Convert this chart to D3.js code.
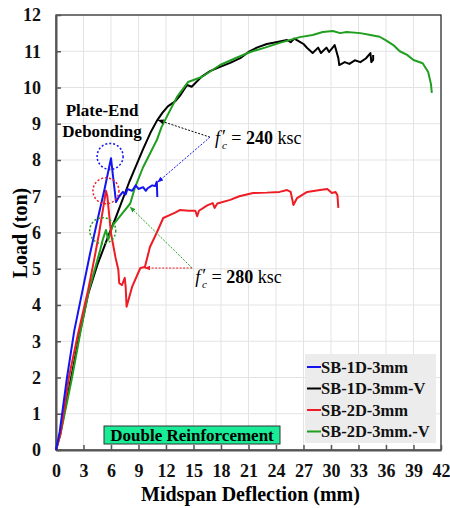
<!DOCTYPE html>
<html>
<head>
<meta charset="utf-8">
<script src="https://cdn.jsdelivr.net/npm/d3@7"></script>
<style>
  body { margin: 0; background: #fff; }
  text { font-family: "Liberation Serif", "Times New Roman", serif; }
</style>
</head>
<body>
<div id="chart"></div>
<script>
// load vs deflection curves [deflection mm, load ton]
var sb1d = [[0,0],[0.4,0.5],[1.2,2.0],[2.0,3.3],[2.9,4.41],[3.7,5.4],[4.6,6.43],[5.3,7.2],[6.0,8.05],[6.2,7.6],[6.55,6.84],[6.9,7.0],[7.3,7.12],[7.6,7.05],[7.8,7.2],[8.3,7.15],[8.7,7.3],[9.0,7.2],[9.5,7.25],[9.8,7.15],[10.0,7.22],[10.5,7.3],[10.8,7.28],[11.0,7.4],[11.05,6.98]];
var sb1dv = [[0,0],[0.5,0.5],[1.5,1.8],[2.5,3.1],[3.5,4.3],[4.5,5.1],[5.1,5.5],[5.7,5.9],[6.5,6.4],[7.4,7.0],[8.0,7.4],[8.5,7.7],[9.5,8.3],[10.3,8.75],[11.0,9.08],[11.6,9.3],[12.2,9.48],[13.0,9.62],[13.6,9.8],[14.3,10.07],[14.8,10.02],[15.9,10.3],[16.8,10.45],[17.9,10.57],[19.0,10.68],[20.1,10.81],[21.0,10.98],[21.9,11.1],[23.0,11.2],[24.0,11.25],[25.2,11.31],[25.6,11.25],[26.0,11.35],[26.6,11.26],[27.0,11.2],[27.4,11.09],[28.0,10.95],[28.6,11.1],[28.9,10.95],[29.5,11.1],[29.8,10.98],[30.4,11.17],[30.8,10.81],[30.9,10.62],[31.5,10.7],[32.0,10.65],[32.6,10.75],[33.2,10.7],[33.8,10.8],[34.3,10.95],[34.4,10.7],[34.6,10.76],[34.6,10.9]];
var sb2d = [[0,0],[0.5,0.45],[1.4,2.0],[2.4,3.2],[3.5,4.41],[4.2,5.3],[4.7,5.98],[5.45,7.15],[5.6,7.0],[6.0,5.98],[6.5,5.3],[6.8,4.97],[6.9,4.6],[7.2,4.55],[7.5,4.75],[7.6,4.5],[7.7,3.95],[8.3,4.5],[9.2,5.02],[9.7,5.05],[10.25,5.6],[11.0,6.0],[11.7,6.4],[12.4,6.48],[13.0,6.55],[13.5,6.62],[14.5,6.6],[15.2,6.6],[15.4,6.45],[15.6,6.6],[16.5,6.75],[17.1,6.81],[17.3,6.68],[17.6,6.8],[19.0,6.9],[20.0,7.0],[21.5,7.09],[23.0,7.1],[24.4,7.12],[25.2,7.17],[25.6,7.12],[25.9,6.76],[26.3,6.95],[27.4,7.12],[28.8,7.17],[29.6,7.2],[30.1,7.09],[30.5,7.12],[30.7,7.03],[30.8,6.68]];
var sb2dv = [[0,0],[0.5,0.45],[1.75,2.0],[2.7,3.3],[3.6,4.41],[4.8,5.5],[5.1,5.8],[5.45,6.07],[5.7,5.8],[6.2,6.2],[7.3,6.55],[8.1,6.8],[8.6,7.23],[9.5,7.8],[10.3,8.2],[11.0,8.55],[11.5,8.9],[12.3,9.3],[13.2,9.74],[14.4,10.15],[15.9,10.29],[17.9,10.62],[19.5,10.8],[21.2,10.98],[22.8,11.1],[24.4,11.23],[26.6,11.39],[28.0,11.45],[29.1,11.53],[30.2,11.56],[31.0,11.5],[31.7,11.53],[33.2,11.5],[34.3,11.45],[35.3,11.4],[36.0,11.3],[36.8,11.17],[37.5,11.0],[38.3,10.9],[39.0,10.76],[40.0,10.67],[40.6,10.43],[40.9,10.1],[41.0,9.85]];

var seriesNames = ['SB-1D-3mm', 'SB-1D-3mm-V', 'SB-2D-3mm', 'SB-2D-3mm.-V'];
var seriesColors = ['#1414f0', '#000000', '#ee1c24', '#1f9e1f'];
var xTicks = [0,3,6,9,12,15,18,21,24,27,30,33,36,39,42];
var yTicks = [0,1,2,3,4,5,6,7,8,9,10,11,12];

var W = 450, H = 508;
var padL = 56, padR = 441, padT = 15, padB = 450;
var serif = '"Liberation Serif", "Times New Roman", serif';

var svg = d3.select('#chart').append('svg')
  .attr('width', W).attr('height', H)
  .attr('font-family', serif);

var x = d3.scaleLinear().domain([0, 42]).range([padL, padR]);
var y = d3.scaleLinear().domain([0, 12]).range([padB, padT]);

// grid
svg.append('g').selectAll('line').data(xTicks).join('line')
  .attr('x1', d => x(d)).attr('x2', d => x(d))
  .attr('y1', padT).attr('y2', padB)
  .attr('stroke', '#e3e3e3').attr('stroke-width', 1);
svg.append('g').selectAll('line').data(yTicks).join('line')
  .attr('x1', padL).attr('x2', padR)
  .attr('y1', d => y(d)).attr('y2', d => y(d))
  .attr('stroke', '#e3e3e3').attr('stroke-width', 1);

// frame
svg.append('rect').attr('x', padL).attr('y', padT)
  .attr('width', padR - padL).attr('height', padB - padT)
  .attr('fill', 'none').attr('stroke', '#222').attr('stroke-width', 1.2);

// axes
var xAxis = d3.axisBottom(x).tickValues(xTicks).tickSizeInner(-5).tickSizeOuter(0).tickPadding(14);
var yAxis = d3.axisLeft(y).tickValues(yTicks).tickSizeInner(-5).tickSizeOuter(0).tickPadding(15);

var gx = svg.append('g').attr('transform', 'translate(0,' + padB + ')').call(xAxis);
var gy = svg.append('g').attr('transform', 'translate(' + padL + ',0)').call(yAxis);
[gx, gy].forEach(function(g) {
  g.attr('font-family', serif).attr('font-size', 18).attr('font-weight', 'bold');
  g.select('.domain').attr('stroke', '#555').attr('stroke-width', 2);
  g.selectAll('.tick line').attr('stroke', '#555').attr('stroke-width', 1.5);
  g.selectAll('.tick text').attr('fill', '#111');
});

// curves
var line = d3.line().x(d => x(d[0])).y(d => y(d[1]));
var curves = [sb1d, sb1dv, sb2d, sb2dv];
svg.append('g').selectAll('path').data([1, 3, 2, 0]).join('path')
  .attr('d', i => line(curves[i]))
  .attr('fill', 'none')
  .attr('stroke', i => seriesColors[i])
  .attr('stroke-width', 2)
  .attr('stroke-linejoin', 'round');

// dotted circles at debonding points
var circles = [[5.9, 8.1, 0], [5.45, 7.15, 2], [5.1, 6.05, 3]];
svg.append('g').selectAll('circle').data(circles).join('circle')
  .attr('cx', d => x(d[0])).attr('cy', d => y(d[1])).attr('r', 13)
  .attr('fill', 'none')
  .attr('stroke', d => seriesColors[d[2]])
  .attr('stroke-width', 1.5)
  .attr('stroke-dasharray', '2,2');

svg.append('text').attr('x', 102).attr('y', 116)
  .attr('text-anchor', 'middle').attr('font-weight', 'bold').attr('font-size', 17)
  .text('Plate-End');
svg.append('text').attr('x', 102).attr('y', 137)
  .attr('text-anchor', 'middle').attr('font-weight', 'bold').attr('font-size', 17)
  .text('Debonding');

// arrow markers
var defs = svg.append('defs');
seriesColors.forEach(function(c, i) {
  defs.append('marker').attr('id', 'arr' + i)
    .attr('viewBox', '0 0 10 10').attr('refX', 9).attr('refY', 5)
    .attr('markerWidth', 6).attr('markerHeight', 6).attr('orient', 'auto')
    .append('path').attr('d', 'M0,1 L10,5 L0,9 Z').attr('fill', c);
});

// leader lines: [from x, from y, to x, to y, series]
var leaders = [
  [16.8, 8.63, 11.15, 9.1, 1],
  [16.8, 8.63, 11.1, 7.39, 0],
  [14.85, 5.02, 9.7, 5.02, 2],
  [14.85, 5.02, 8.1, 6.7, 3]
];
svg.append('g').selectAll('line').data(leaders).join('line')
  .attr('x1', d => x(d[0])).attr('y1', d => y(d[1]))
  .attr('x2', d => x(d[2])).attr('y2', d => y(d[3]))
  .attr('stroke', d => seriesColors[d[4]])
  .attr('stroke-width', 1)
  .attr('stroke-dasharray', '2,1.5')
  .attr('marker-end', d => 'url(#arr' + d[4] + ')');

// f'c label built from tspans in one text
function fcLabel(px, py, val) {
  var t = svg.append('text').attr('x', px).attr('y', py).attr('font-size', 18);
  t.append('tspan').attr('font-style', 'italic').text('f');
  t.append('tspan').attr('dx', 2).attr('dy', -1).text('\u2032');
  t.append('tspan').attr('font-style', 'italic').attr('font-size', 11)
    .attr('dx', -4).attr('dy', 6).text('c');
  t.append('tspan').attr('dy', -5).text(' = ');
  t.append('tspan').attr('font-weight', 'bold').text(val);
  t.append('tspan').text(' ksc');
}
fcLabel(x(16.8) + 5, y(8.63) + 7, '240');
fcLabel(x(14.85) + 3, y(5.02) + 15, '280');

// Double Reinforcement tag
svg.append('rect').attr('x', 104).attr('y', 426).attr('width', 176).attr('height', 18)
  .attr('fill', '#19eb96').attr('stroke', '#333').attr('stroke-width', 1);
svg.append('text').attr('x', 192).attr('y', 441)
  .attr('text-anchor', 'middle').attr('font-weight', 'bold').attr('font-size', 17)
  .text('Double Reinforcement');

// legend
var lg = svg.append('g');
lg.append('rect').attr('x', 305).attr('y', 354).attr('width', 131).attr('height', 89)
  .attr('fill', '#ececec');
var items = lg.selectAll('g').data(seriesNames).join('g')
  .attr('transform', (d, i) => 'translate(307,' + (367 + i * 21.5) + ')');
items.append('line').attr('x1', 0).attr('x2', 14).attr('y1', 0).attr('y2', 0)
  .attr('stroke', (d, i) => seriesColors[i]).attr('stroke-width', 2);
items.append('text').attr('x', 14).attr('y', 5.5)
  .attr('font-weight', 'bold').attr('font-size', 16.5).attr('fill', '#111')
  .text(d => d);

// axis titles
svg.append('text').attr('x', (padL + padR) / 2 + 2).attr('y', 501)
  .attr('text-anchor', 'middle').attr('font-weight', 'bold').attr('font-size', 20)
  .text('Midspan Deflection (mm)');
svg.append('text').attr('transform', 'translate(27,233) rotate(-90)')
  .attr('text-anchor', 'middle').attr('font-weight', 'bold').attr('font-size', 20)
  .text('Load (ton)');
</script>
</body>
</html>
